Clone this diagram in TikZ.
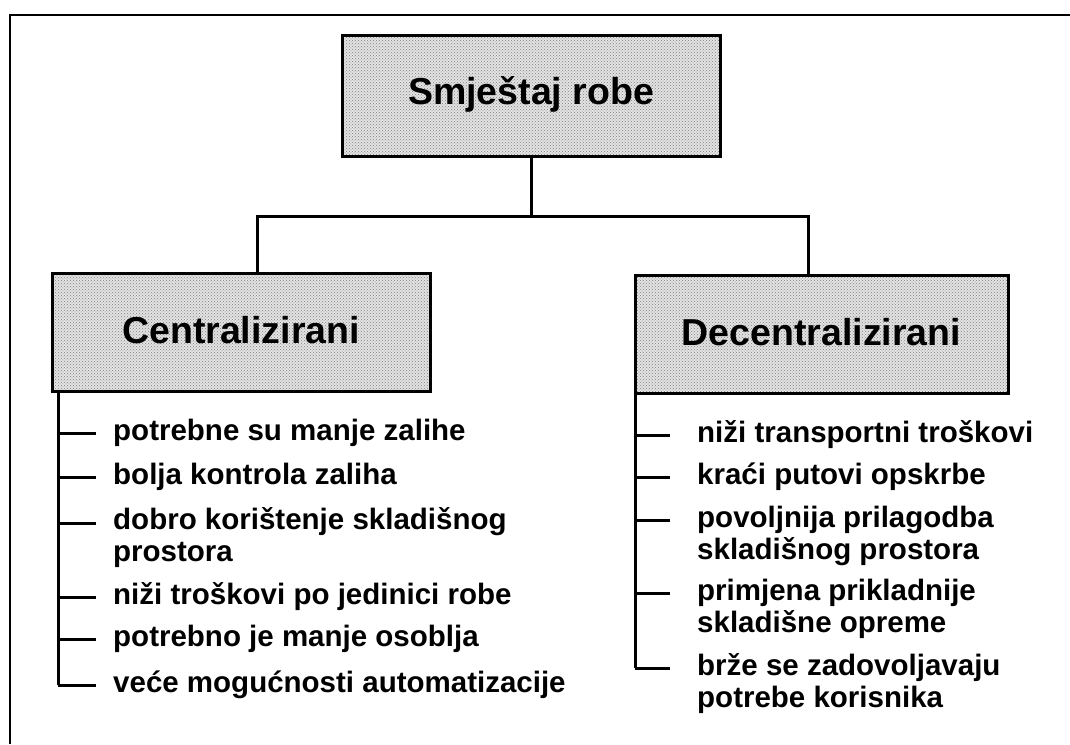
\documentclass[tikz,border=0pt]{standalone}
\usepackage{fontspec}
\setmainfont{Liberation Sans}
\usetikzlibrary{patterns}
\begin{document}
\begin{tikzpicture}[x=1pt,y=-1pt,
  boxnode/.style={draw=black, line width=3pt, preaction={fill=gray!22}, pattern=crosshatch dots, pattern color=black!50, inner sep=0pt, font=\bfseries\fontsize{37.5}{40}\selectfont},
  conn/.style={line width=3pt},
  itemtext/.style={anchor=base west, inner sep=0pt, align=left, font=\bfseries\fontsize{29.5}{31.5}\selectfont}]
\useasboundingbox (0,0) rectangle (1070,744);
\draw[line width=2pt] (10,744) -- (10,15) -- (1070,15);

\node[boxnode, minimum width=378pt, minimum height=121pt, text height=27pt, text depth=9pt] (top) at (531,95.5) {Smještaj robe};
\node[boxnode, minimum width=378pt, minimum height=118pt, text height=27pt, text depth=5pt] (cbox) at (241,332) {Centralizirani};
\node[boxnode, minimum width=373pt, minimum height=118pt, text height=27pt, text depth=5pt] (dbox) at (821.5,334) {Decentralizirani};

\coordinate (bl) at (257,216);
\coordinate (br) at (808,216);
\draw[conn] (top.south) -- (top.south |- bl);
\draw[conn] (cbox.north -| bl) -- (bl) -- (br) -- (dbox.north -| br);

% left list (base anchor of a two-line node is its last line)
\node[itemtext] (c1) at (113,440) {potrebne su manje zalihe};
\node[itemtext] (c2) at (113,484) {bolja kontrola zaliha};
\node[itemtext] (c3) at (113,561) {dobro korištenje skladišnog\\prostora};
\node[itemtext] (c4) at (113,604) {niži troškovi po jedinici robe};
\node[itemtext] (c5) at (113,646) {potrebno je manje osoblja};
\node[itemtext] (c6) at (113,692) {veće mogućnosti automatizacije};
\coordinate (lc1) at (58,433);
\coordinate (lc2) at (58,477);
\coordinate (lc3) at (58,523);
\coordinate (lc4) at (58,597);
\coordinate (lc5) at (58,639);
\coordinate (lc6) at (58,685);
\draw[conn] (cbox.south -| lc6) -- (lc6);
\foreach \i in {1,...,6} \draw[conn, shorten >=17pt] (lc\i) -- (lc\i -| c\i.west);

% right list
\node[itemtext] (d1) at (697,442) {niži transportni troškovi};
\node[itemtext] (d2) at (697,484) {kraći putovi opskrbe};
\node[itemtext] (d3) at (697,559) {povoljnija prilagodba\\skladišnog prostora};
\node[itemtext] (d4) at (697,632) {primjena prikladnije\\skladišne opreme};
\node[itemtext] (d5) at (697,707) {brže se zadovoljavaju\\potrebe korisnika};
\coordinate (rd1) at (635,435);
\coordinate (rd2) at (635,477);
\coordinate (rd3) at (635,520);
\coordinate (rd4) at (635,593);
\coordinate (rd5) at (635,668);
\draw[conn] (dbox.south -| rd5) -- (rd5);
\foreach \i in {1,...,5} \draw[conn, shorten >=27pt] (rd\i) -- (rd\i -| d\i.west);
\end{tikzpicture}
\end{document}
